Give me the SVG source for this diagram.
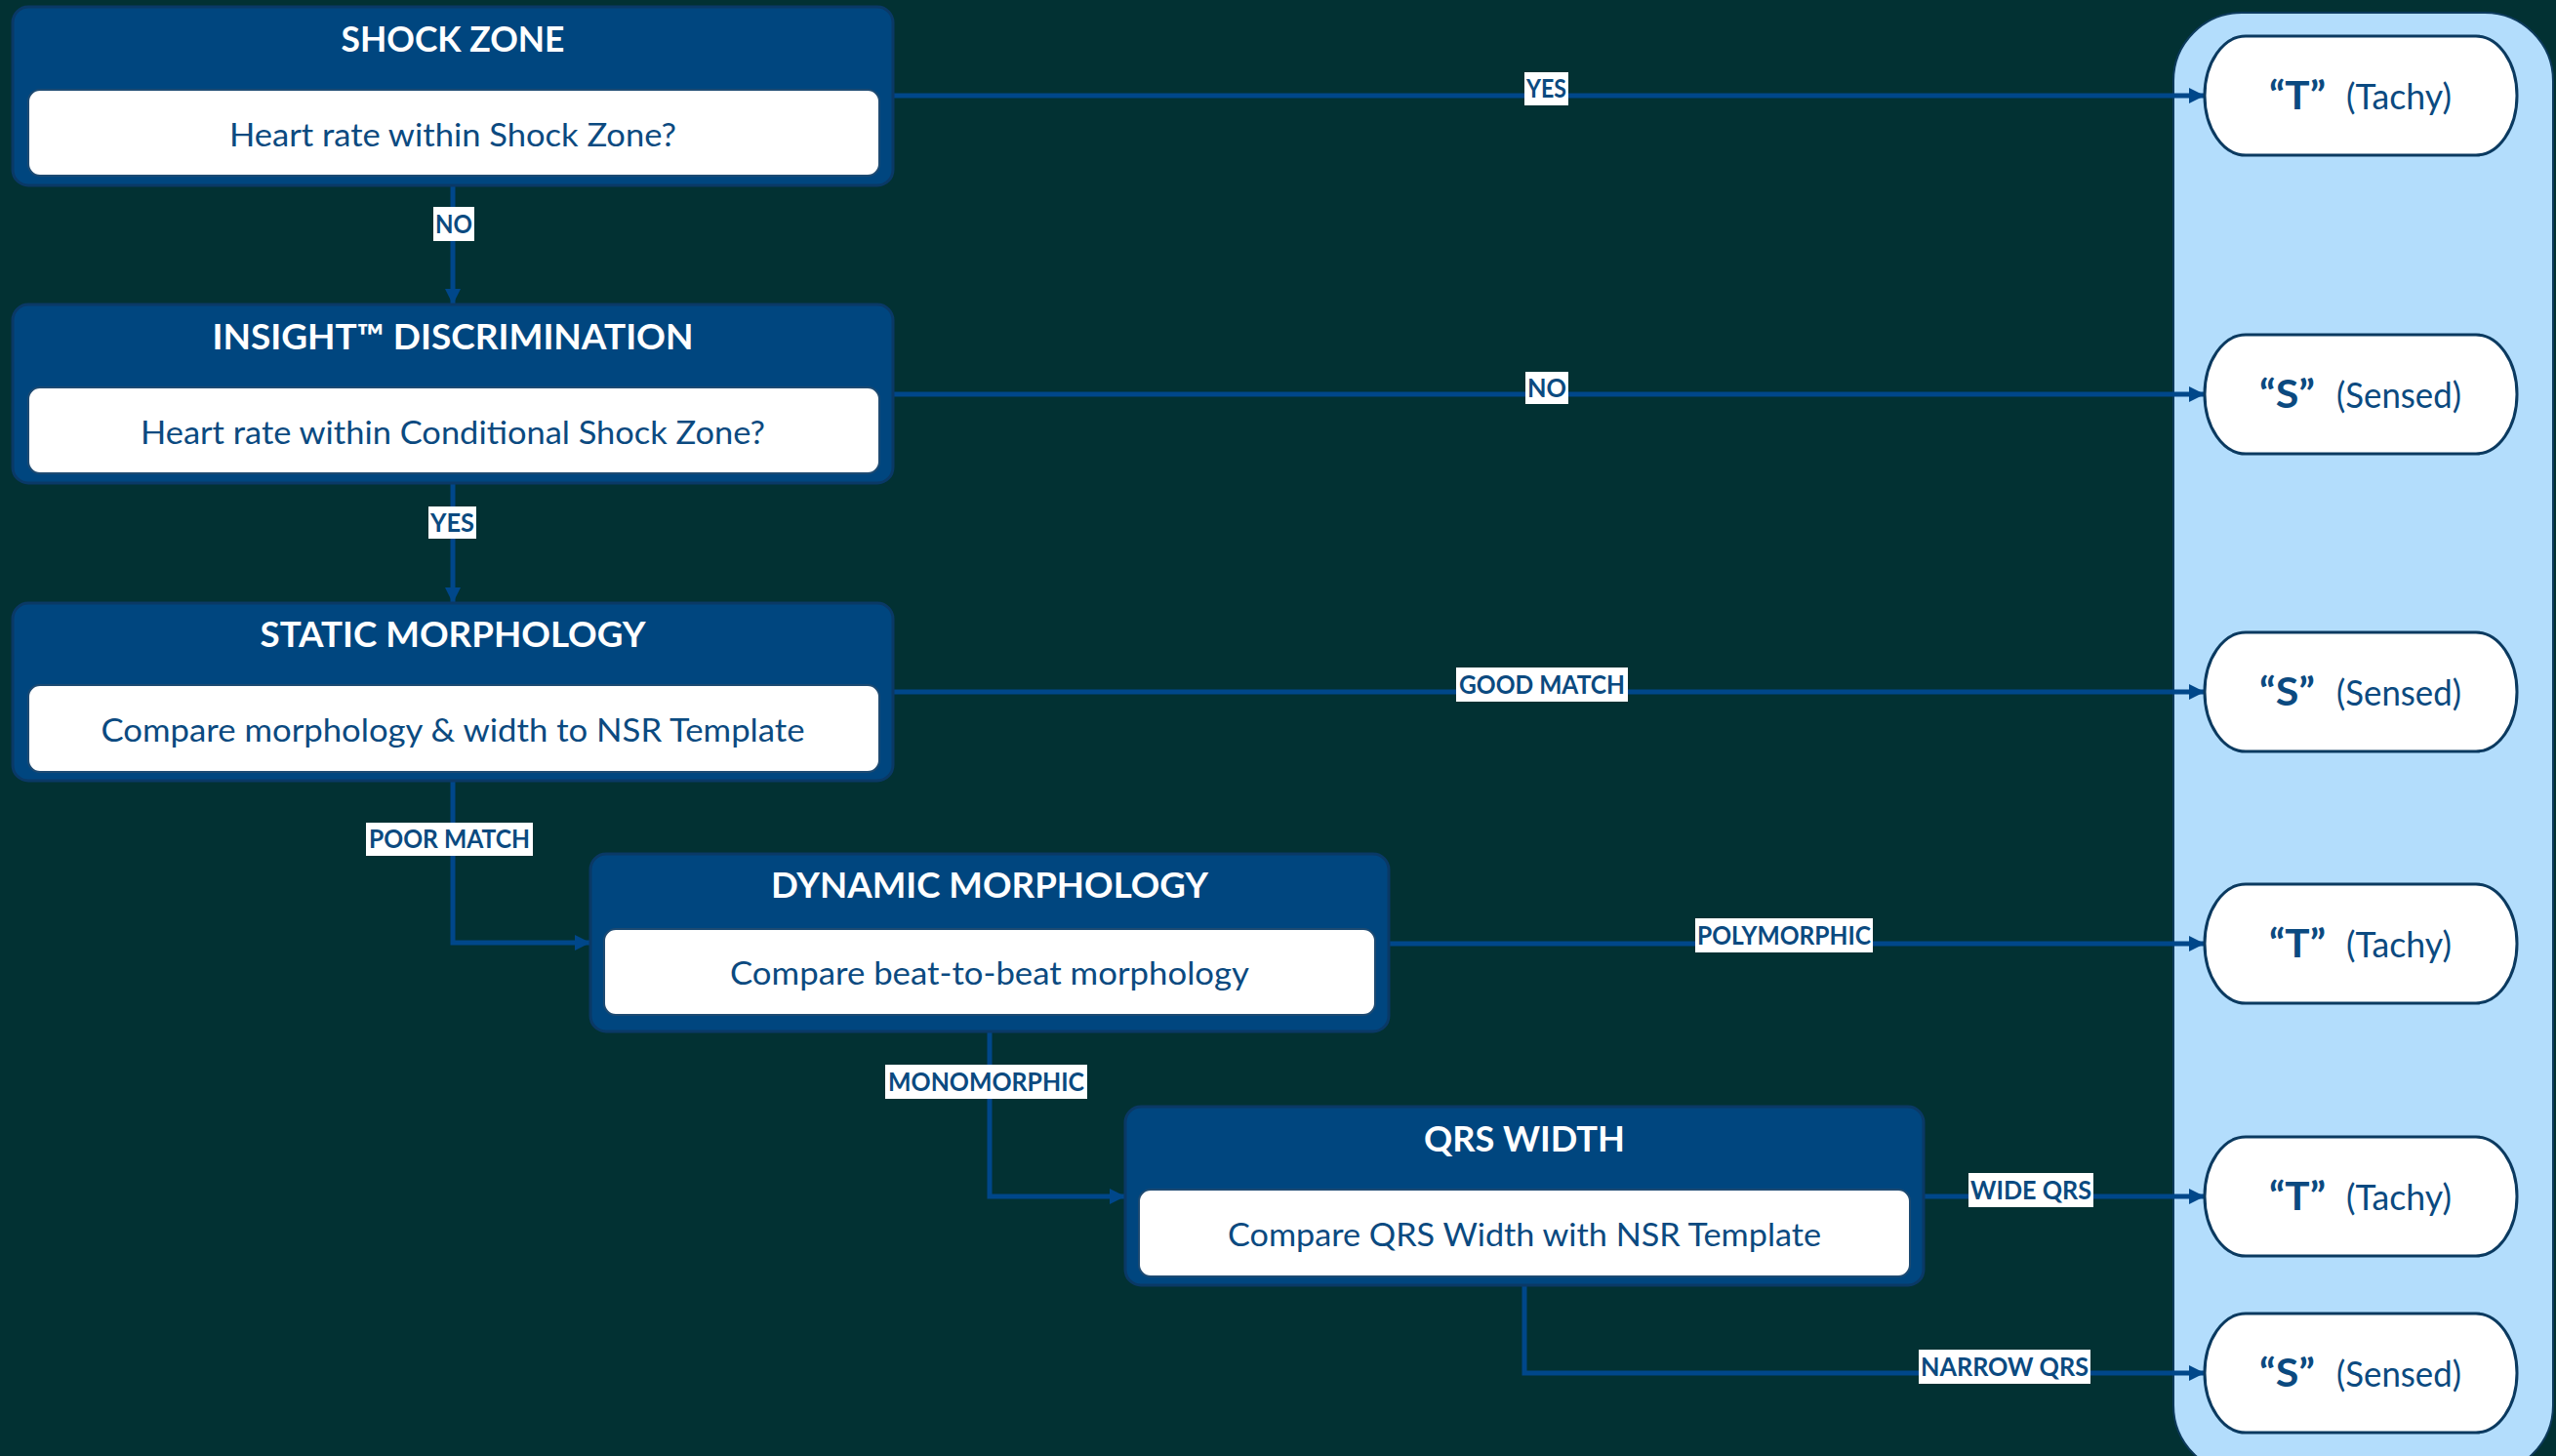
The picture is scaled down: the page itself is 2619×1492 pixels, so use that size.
<svg xmlns="http://www.w3.org/2000/svg" width="2619" height="1492" viewBox="0 0 2619 1492">
<defs>
<style>
.bg{fill:#023133}
.outer{fill:#00467F;stroke:#0a3966;stroke-width:3}
.inner{fill:#ffffff;stroke:#1d4a72;stroke-width:2}
.title{font-family:Lato,"Open Sans",sans-serif;font-weight:700;font-size:36px;fill:#ffffff;text-anchor:middle}
.body{font-family:Lato,"Open Sans",sans-serif;font-size:32px;fill:#0B4A80;text-anchor:middle}
.conn{fill:none;stroke:#00478A;stroke-width:5}
.lblbox{fill:#ffffff}
.lbl{font-family:Lato,"Open Sans",sans-serif;font-weight:700;font-size:26px;fill:#0B4A80;text-anchor:middle}
.panel{fill:#B3DDFC;stroke:#0d3a5c;stroke-width:2}
.pill{fill:#ffffff;stroke:#0B3A60;stroke-width:3}
.pb{font-family:Lato,"Open Sans",sans-serif;font-weight:700;font-size:40px;fill:#0B4A80}
.pr{font-family:Lato,"Open Sans",sans-serif;font-size:36px;fill:#0B4A80}
</style>
<marker id="ah" markerUnits="userSpaceOnUse" markerWidth="17" markerHeight="17" refX="16" refY="8" orient="auto">
<path d="M0,0 L16,8 L0,16 z" fill="#00478A"/>
</marker>
</defs>
<rect class="bg" x="0" y="0" width="2619" height="1492"/>
<g id="panel">
<rect class="panel" x="2227" y="13" width="389" height="1497" rx="70" ry="70"/>
</g>
<g id="connectors">
<path class="conn" d="M464,190 V312" marker-end="url(#ah)"/>
<path class="conn" d="M464,495 V618" marker-end="url(#ah)"/>
<path class="conn" d="M464,800 V966 H605" marker-end="url(#ah)"/>
<path class="conn" d="M1014,1057 V1226 H1153" marker-end="url(#ah)"/>
<path class="conn" d="M1562,1317 V1407 H2259" marker-end="url(#ah)"/>
<path class="conn" d="M915,98 H2259" marker-end="url(#ah)"/>
<path class="conn" d="M915,404 H2259" marker-end="url(#ah)"/>
<path class="conn" d="M915,709 H2259" marker-end="url(#ah)"/>
<path class="conn" d="M1423,967 H2259" marker-end="url(#ah)"/>
<path class="conn" d="M1971,1226 H2259" marker-end="url(#ah)"/>
<rect class="lblbox" x="1562" y="74" width="45" height="34"/>
<text class="lbl" x="1584.5" y="100" textLength="41" lengthAdjust="spacingAndGlyphs">YES</text>
<rect class="lblbox" x="444" y="212" width="42" height="35"/>
<text class="lbl" x="465" y="239" textLength="38" lengthAdjust="spacingAndGlyphs">NO</text>
<rect class="lblbox" x="1563" y="381" width="44" height="33"/>
<text class="lbl" x="1585" y="407" textLength="40" lengthAdjust="spacingAndGlyphs">NO</text>
<rect class="lblbox" x="439" y="519" width="49" height="33"/>
<text class="lbl" x="463.5" y="545" textLength="45" lengthAdjust="spacingAndGlyphs">YES</text>
<rect class="lblbox" x="1492" y="684" width="176" height="35"/>
<text class="lbl" x="1580" y="711" textLength="170" lengthAdjust="spacingAndGlyphs">GOOD MATCH</text>
<rect class="lblbox" x="375" y="843" width="171" height="34"/>
<text class="lbl" x="460.5" y="869" textLength="165" lengthAdjust="spacingAndGlyphs">POOR MATCH</text>
<rect class="lblbox" x="1737" y="941" width="182" height="35"/>
<text class="lbl" x="1828" y="968" textLength="178" lengthAdjust="spacingAndGlyphs">POLYMORPHIC</text>
<rect class="lblbox" x="907" y="1091" width="207" height="35"/>
<text class="lbl" x="1010.5" y="1118" textLength="201" lengthAdjust="spacingAndGlyphs">MONOMORPHIC</text>
<rect class="lblbox" x="2017" y="1202" width="128" height="35"/>
<text class="lbl" x="2081" y="1229" textLength="124" lengthAdjust="spacingAndGlyphs">WIDE QRS</text>
<rect class="lblbox" x="1966" y="1383" width="176" height="35"/>
<text class="lbl" x="2054" y="1410" textLength="172" lengthAdjust="spacingAndGlyphs">NARROW QRS</text>
</g>
<g id="shock-zone">
<rect class="outer" x="13" y="7" width="902" height="183" rx="16"/>
<text class="title" x="464" y="53" textLength="229" lengthAdjust="spacingAndGlyphs">SHOCK ZONE</text>
<rect class="inner" x="29" y="92" width="872" height="88" rx="12"/>
<text class="body" x="464" y="150" textLength="458" lengthAdjust="spacingAndGlyphs">Heart rate within Shock Zone?</text>
</g>
<g id="insight">
<rect class="outer" x="13" y="312" width="902" height="183" rx="16"/>
<text class="title" x="464" y="358" textLength="493" lengthAdjust="spacingAndGlyphs">INSIGHT™ DISCRIMINATION</text>
<rect class="inner" x="29" y="397" width="872" height="88" rx="12"/>
<text class="body" x="464" y="455" textLength="640" lengthAdjust="spacingAndGlyphs">Heart rate within Conditional Shock Zone?</text>
</g>
<g id="static-morphology">
<rect class="outer" x="13" y="618" width="902" height="182" rx="16"/>
<text class="title" x="464" y="663" textLength="395" lengthAdjust="spacingAndGlyphs">STATIC MORPHOLOGY</text>
<rect class="inner" x="29" y="702" width="872" height="89" rx="12"/>
<text class="body" x="464" y="760" textLength="721" lengthAdjust="spacingAndGlyphs">Compare morphology &amp; width to NSR Template</text>
</g>
<g id="dynamic-morphology">
<rect class="outer" x="605" y="875" width="818" height="182" rx="16"/>
<text class="title" x="1014" y="920" textLength="448" lengthAdjust="spacingAndGlyphs">DYNAMIC MORPHOLOGY</text>
<rect class="inner" x="619" y="952" width="790" height="88" rx="12"/>
<text class="body" x="1014" y="1009" textLength="532" lengthAdjust="spacingAndGlyphs">Compare beat-to-beat morphology</text>
</g>
<g id="qrs-width">
<rect class="outer" x="1153" y="1134" width="818" height="183" rx="16"/>
<text class="title" x="1562" y="1180" textLength="206" lengthAdjust="spacingAndGlyphs">QRS WIDTH</text>
<rect class="inner" x="1167" y="1219" width="790" height="89" rx="12"/>
<text class="body" x="1562" y="1277" textLength="608" lengthAdjust="spacingAndGlyphs">Compare QRS Width with NSR Template</text>
</g>
<g id="out-t1">
<rect class="pill" x="2259" y="37" width="320" height="122" rx="42" ry="61"/>
<text x="2325" y="112"><tspan class="pb" textLength="58" lengthAdjust="spacingAndGlyphs">“T”</tspan><tspan class="pr" x="2404" textLength="108" lengthAdjust="spacingAndGlyphs">(Tachy)</tspan></text>
</g>
<g id="out-s1">
<rect class="pill" x="2259" y="343" width="320" height="122" rx="42" ry="61"/>
<text x="2315" y="418"><tspan class="pb" textLength="57" lengthAdjust="spacingAndGlyphs">“S”</tspan><tspan class="pr" x="2394" textLength="128" lengthAdjust="spacingAndGlyphs">(Sensed)</tspan></text>
</g>
<g id="out-s2">
<rect class="pill" x="2259" y="648" width="320" height="122" rx="42" ry="61"/>
<text x="2315" y="723"><tspan class="pb" textLength="57" lengthAdjust="spacingAndGlyphs">“S”</tspan><tspan class="pr" x="2394" textLength="128" lengthAdjust="spacingAndGlyphs">(Sensed)</tspan></text>
</g>
<g id="out-t2">
<rect class="pill" x="2259" y="906" width="320" height="122" rx="42" ry="61"/>
<text x="2325" y="981"><tspan class="pb" textLength="58" lengthAdjust="spacingAndGlyphs">“T”</tspan><tspan class="pr" x="2404" textLength="108" lengthAdjust="spacingAndGlyphs">(Tachy)</tspan></text>
</g>
<g id="out-t3">
<rect class="pill" x="2259" y="1165" width="320" height="122" rx="42" ry="61"/>
<text x="2325" y="1240"><tspan class="pb" textLength="58" lengthAdjust="spacingAndGlyphs">“T”</tspan><tspan class="pr" x="2404" textLength="108" lengthAdjust="spacingAndGlyphs">(Tachy)</tspan></text>
</g>
<g id="out-s3">
<rect class="pill" x="2259" y="1346" width="320" height="122" rx="42" ry="61"/>
<text x="2315" y="1421"><tspan class="pb" textLength="57" lengthAdjust="spacingAndGlyphs">“S”</tspan><tspan class="pr" x="2394" textLength="128" lengthAdjust="spacingAndGlyphs">(Sensed)</tspan></text>
</g>
</svg>
